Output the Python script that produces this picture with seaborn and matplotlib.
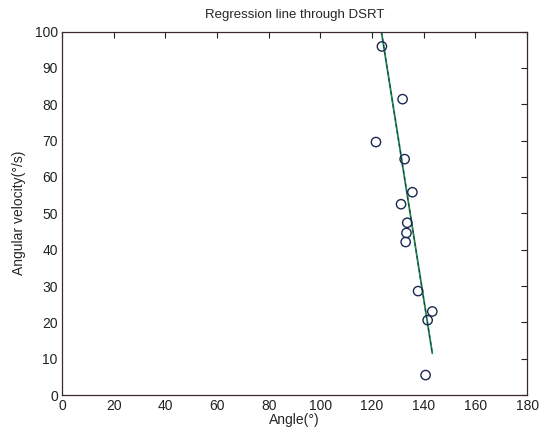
import numpy as np
import pandas as pd
import matplotlib
matplotlib.use("Agg")
import matplotlib.pyplot as plt
import seaborn as sns

# measured points (angle in degrees, angular velocity in deg/s)
angle = [123.8, 131.8, 121.5, 132.6, 135.6, 131.2, 133.6, 133.3, 133.0, 137.8, 143.3, 141.5, 140.7]
velocity = [95.9, 81.4, 69.6, 64.9, 55.8, 52.5, 47.4, 44.6, 42.1, 28.6, 23.0, 20.6, 5.5]

# regression line as drawn in the original (endpoints)
fit_angle = [121.5, 143.3]
fit_velocity = [109.4, 11.5]

df = pd.DataFrame({"Angle": angle, "Velocity": velocity})
fit = pd.DataFrame({"Angle": fit_angle, "Velocity": fit_velocity})

sns.set_style("white")
plt.rcParams['font.family'] = ['Liberation Sans', 'DejaVu Sans']
plt.rcParams['xtick.direction'] = 'in'
plt.rcParams['ytick.direction'] = 'in'

fig = plt.figure(figsize=(5.44, 4.38), dpi=100)
ax = fig.add_axes([0.114, 0.098, 0.855, 0.830])

sns.lineplot(x="Angle", y="Velocity", data=fit, ax=ax, color="#1e8a4a", lw=1.3, zorder=2)
ax.plot(fit["Angle"], fit["Velocity"], color="#1a3a5a", lw=0.8, ls=(0, (3, 3)), zorder=3)
sns.scatterplot(x="Angle", y="Velocity", data=df, ax=ax, marker="o", s=45,
                facecolor="none", edgecolor="#1c2850", linewidth=1.0, zorder=4)

ax.set_xlim(0, 180)
ax.set_ylim(0, 100)
ax.set_xticks(range(0, 181, 20))
ax.set_yticks(range(0, 101, 10))
ax.tick_params(top=True, right=True, length=4, width=0.8, labelsize=10, colors="#222222", pad=3)
for s in ax.spines.values():
    s.set_color("#3a2a2a")
    s.set_linewidth(0.9)

ax.set_title("Regression line through DSRT", fontsize=9.5, pad=10)
ax.set_xlabel("Angle(°)", fontsize=10, labelpad=0)
ax.set_ylabel("Angular velocity(°/s)", fontsize=10, labelpad=6)

fig.savefig("out.png", dpi=100, facecolor="white")
